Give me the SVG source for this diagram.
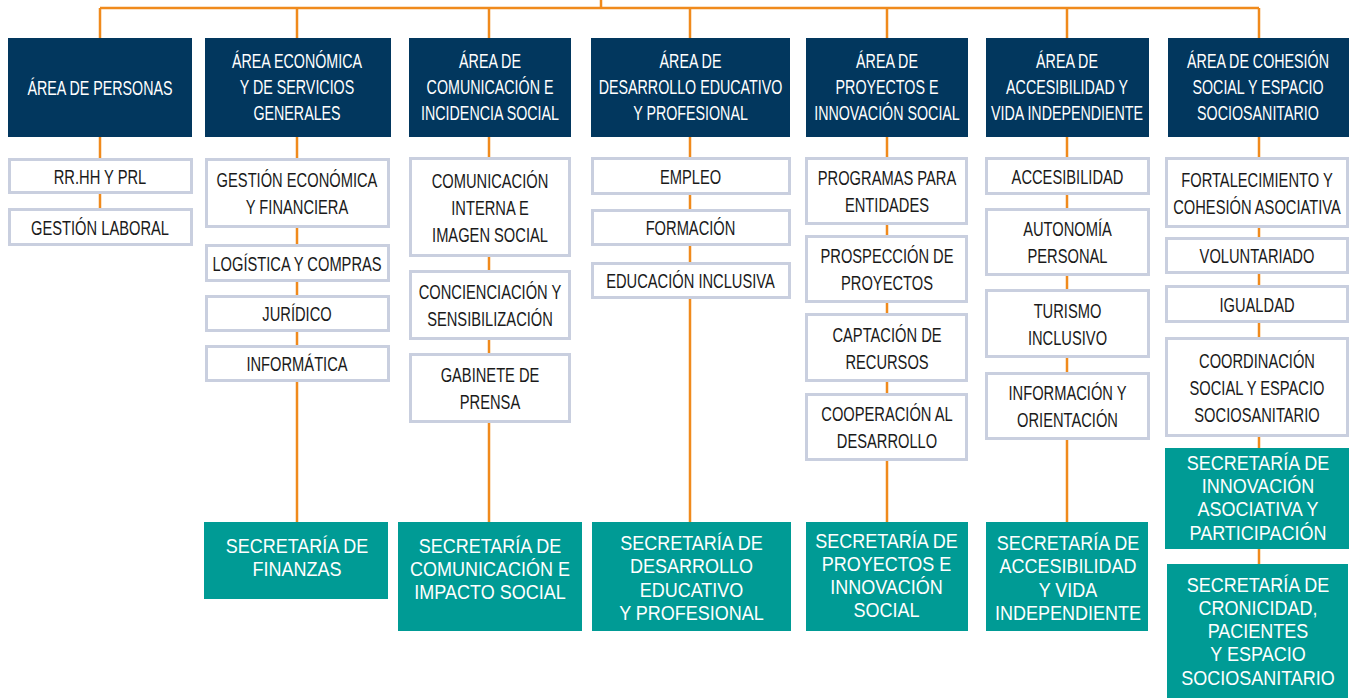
<svg xmlns="http://www.w3.org/2000/svg" width="1349" height="698" viewBox="0 0 1349 698">
<style>
.conn{stroke:#f08a1c;stroke-width:2.5;fill:none}
.hd{fill:#02375e}
.sb{fill:#fff;stroke:#c9cfdf;stroke-width:3}
.sc{fill:#009b95}
.th{font-family:"Liberation Sans",Arial,sans-serif;font-size:21px;fill:#fff;text-anchor:middle}
.ts{font-family:"Liberation Sans",Arial,sans-serif;font-size:21px;fill:#1a1a1a;text-anchor:middle}
.tc{font-family:"Liberation Sans",Arial,sans-serif;font-size:20px;fill:#fff;text-anchor:middle}
</style>
<rect width="1349" height="698" fill="#fff"/>
<g id="connectors">
<path class="conn" d="M601 0V8M100 8H1259M100 8V208M297 8V522M489 8V522M690 8V522M887 8V522M1067 8V522M1259 8V564"/>
</g>
<g id="col1">
<g id="h1"><rect class="hd" x="8" y="38" width="184" height="99"/><text class="th" transform="translate(100,94.5) scale(0.68,1)">ÁREA DE PERSONAS</text></g>
<g id="s1a"><rect class="sb" x="9.5" y="159.5" width="182" height="33"/><text class="ts" transform="translate(100,183.5) scale(0.7,1)">RR.HH Y PRL</text></g>
<g id="s1b"><rect class="sb" x="9.5" y="209.5" width="182" height="35"/><text class="ts" transform="translate(100,234.5) scale(0.7,1)">GESTIÓN LABORAL</text></g>
</g>
<g id="col2">
<g id="h2"><rect class="hd" x="205" y="38" width="186" height="99"/><text class="th" transform="translate(297,67.5) scale(0.68,1)">ÁREA ECONÓMICA</text><text class="th" transform="translate(297,93.5) scale(0.68,1)">Y DE SERVICIOS</text><text class="th" transform="translate(297,119.5) scale(0.68,1)">GENERALES</text></g>
<g id="s2a"><rect class="sb" x="206.5" y="159.5" width="182" height="67"/><text class="ts" transform="translate(297,187) scale(0.7,1)">GESTIÓN ECONÓMICA</text><text class="ts" transform="translate(297,214) scale(0.7,1)">Y FINANCIERA</text></g>
<g id="s2b"><rect class="sb" x="206.5" y="245.5" width="182" height="35"/><text class="ts" transform="translate(297,270.5) scale(0.7,1)">LOGÍSTICA Y COMPRAS</text></g>
<g id="s2c"><rect class="sb" x="206.5" y="296.5" width="182" height="34"/><text class="ts" transform="translate(297,321) scale(0.7,1)">JURÍDICO</text></g>
<g id="s2d"><rect class="sb" x="206.5" y="346.5" width="182" height="34"/><text class="ts" transform="translate(297,371) scale(0.7,1)">INFORMÁTICA</text></g>
<g id="c2"><rect class="sc" x="204" y="522" width="184" height="77"/><text class="tc" transform="translate(297,553) scale(0.9,1)">SECRETARÍA DE</text><text class="tc" transform="translate(297,576) scale(0.9,1)">FINANZAS</text></g>
</g>
<g id="col3">
<g id="h3"><rect class="hd" x="409" y="38" width="162" height="99"/><text class="th" transform="translate(490,67.5) scale(0.68,1)">ÁREA DE</text><text class="th" transform="translate(490,93.5) scale(0.68,1)">COMUNICACIÓN E</text><text class="th" transform="translate(490,119.5) scale(0.68,1)">INCIDENCIA SOCIAL</text></g>
<g id="s3a"><rect class="sb" x="410.5" y="158.5" width="159" height="97"/><text class="ts" transform="translate(490,187.5) scale(0.7,1)">COMUNICACIÓN</text><text class="ts" transform="translate(490,214.5) scale(0.7,1)">INTERNA E</text><text class="ts" transform="translate(490,241.5) scale(0.7,1)">IMAGEN SOCIAL</text></g>
<g id="s3b"><rect class="sb" x="410.5" y="271.5" width="159" height="67"/><text class="ts" transform="translate(490,298.5) scale(0.7,1)">CONCIENCIACIÓN Y</text><text class="ts" transform="translate(490,325.5) scale(0.7,1)">SENSIBILIZACIÓN</text></g>
<g id="s3c"><rect class="sb" x="410.5" y="354.5" width="159" height="67"/><text class="ts" transform="translate(490,381.5) scale(0.7,1)">GABINETE DE</text><text class="ts" transform="translate(490,408.5) scale(0.7,1)">PRENSA</text></g>
<g id="c3"><rect class="sc" x="398" y="522" width="184" height="109"/><text class="tc" transform="translate(490,553) scale(0.9,1)">SECRETARÍA DE</text><text class="tc" transform="translate(490,576) scale(0.9,1)">COMUNICACIÓN E</text><text class="tc" transform="translate(490,599) scale(0.9,1)">IMPACTO SOCIAL</text></g>
</g>
<g id="col4">
<g id="h4"><rect class="hd" x="591" y="38" width="199" height="99"/><text class="th" transform="translate(690.5,67.5) scale(0.68,1)">ÁREA DE</text><text class="th" transform="translate(690.5,93.5) scale(0.68,1)">DESARROLLO EDUCATIVO</text><text class="th" transform="translate(690.5,119.5) scale(0.68,1)">Y PROFESIONAL</text></g>
<g id="s4a"><rect class="sb" x="592.5" y="158.5" width="197" height="35"/><text class="ts" transform="translate(690.5,183.5) scale(0.7,1)">EMPLEO</text></g>
<g id="s4b"><rect class="sb" x="592.5" y="210.5" width="197" height="34"/><text class="ts" transform="translate(690.5,235) scale(0.7,1)">FORMACIÓN</text></g>
<g id="s4c"><rect class="sb" x="592.5" y="263.5" width="197" height="34"/><text class="ts" transform="translate(690.5,288) scale(0.7,1)">EDUCACIÓN INCLUSIVA</text></g>
<g id="c4"><rect class="sc" x="592" y="522" width="199" height="109"/><text class="tc" transform="translate(691.5,550) scale(0.9,1)">SECRETARÍA DE</text><text class="tc" transform="translate(691.5,573) scale(0.9,1)">DESARROLLO</text><text class="tc" transform="translate(691.5,597) scale(0.9,1)">EDUCATIVO</text><text class="tc" transform="translate(691.5,620) scale(0.9,1)">Y PROFESIONAL</text></g>
</g>
<g id="col5">
<g id="h5"><rect class="hd" x="806" y="38" width="162" height="99"/><text class="th" transform="translate(887,67.5) scale(0.68,1)">ÁREA DE</text><text class="th" transform="translate(887,93.5) scale(0.68,1)">PROYECTOS E</text><text class="th" transform="translate(887,119.5) scale(0.68,1)">INNOVACIÓN SOCIAL</text></g>
<g id="s5a"><rect class="sb" x="806.5" y="158.5" width="160" height="65"/><text class="ts" transform="translate(887,185) scale(0.7,1)">PROGRAMAS PARA</text><text class="ts" transform="translate(887,212) scale(0.7,1)">ENTIDADES</text></g>
<g id="s5b"><rect class="sb" x="806.5" y="236.5" width="160" height="65"/><text class="ts" transform="translate(887,263) scale(0.7,1)">PROSPECCIÓN DE</text><text class="ts" transform="translate(887,290) scale(0.7,1)">PROYECTOS</text></g>
<g id="s5c"><rect class="sb" x="806.5" y="314.5" width="160" height="66"/><text class="ts" transform="translate(887,341.5) scale(0.7,1)">CAPTACIÓN DE</text><text class="ts" transform="translate(887,368.5) scale(0.7,1)">RECURSOS</text></g>
<g id="s5d"><rect class="sb" x="806.5" y="394.5" width="160" height="65"/><text class="ts" transform="translate(887,421) scale(0.7,1)">COOPERACIÓN AL</text><text class="ts" transform="translate(887,448) scale(0.7,1)">DESARROLLO</text></g>
<g id="c5"><rect class="sc" x="806" y="522" width="162" height="109"/><text class="tc" transform="translate(886.5,548) scale(0.9,1)">SECRETARÍA DE</text><text class="tc" transform="translate(886.5,571) scale(0.9,1)">PROYECTOS E</text><text class="tc" transform="translate(886.5,594) scale(0.9,1)">INNOVACIÓN</text><text class="tc" transform="translate(886.5,617) scale(0.9,1)">SOCIAL</text></g>
</g>
<g id="col6">
<g id="h6"><rect class="hd" x="986" y="38" width="163" height="99"/><text class="th" transform="translate(1067,67.5) scale(0.68,1)">ÁREA DE</text><text class="th" transform="translate(1067,93.5) scale(0.68,1)">ACCESIBILIDAD Y</text><text class="th" transform="translate(1067,119.5) scale(0.68,1)">VIDA INDEPENDIENTE</text></g>
<g id="s6a"><rect class="sb" x="986.5" y="158.5" width="162" height="35"/><text class="ts" transform="translate(1067.5,183.5) scale(0.7,1)">ACCESIBILIDAD</text></g>
<g id="s6b"><rect class="sb" x="986.5" y="209.5" width="162" height="65"/><text class="ts" transform="translate(1067.5,236) scale(0.7,1)">AUTONOMÍA</text><text class="ts" transform="translate(1067.5,263) scale(0.7,1)">PERSONAL</text></g>
<g id="s6c"><rect class="sb" x="986.5" y="290.5" width="162" height="66"/><text class="ts" transform="translate(1067.5,317.5) scale(0.7,1)">TURISMO</text><text class="ts" transform="translate(1067.5,344.5) scale(0.7,1)">INCLUSIVO</text></g>
<g id="s6d"><rect class="sb" x="986.5" y="373.5" width="162" height="65"/><text class="ts" transform="translate(1067.5,400) scale(0.7,1)">INFORMACIÓN Y</text><text class="ts" transform="translate(1067.5,427) scale(0.7,1)">ORIENTACIÓN</text></g>
<g id="c6"><rect class="sc" x="986" y="522" width="162" height="109"/><text class="tc" transform="translate(1068,550) scale(0.9,1)">SECRETARÍA DE</text><text class="tc" transform="translate(1068,573) scale(0.9,1)">ACCESIBILIDAD</text><text class="tc" transform="translate(1068,597) scale(0.9,1)">Y VIDA</text><text class="tc" transform="translate(1068,620) scale(0.9,1)">INDEPENDIENTE</text></g>
</g>
<g id="col7">
<g id="h7"><rect class="hd" x="1168" y="38" width="181" height="99"/><text class="th" transform="translate(1258,67.5) scale(0.68,1)">ÁREA DE COHESIÓN</text><text class="th" transform="translate(1258,93.5) scale(0.68,1)">SOCIAL Y ESPACIO</text><text class="th" transform="translate(1258,119.5) scale(0.68,1)">SOCIOSANITARIO</text></g>
<g id="s7a"><rect class="sb" x="1166.5" y="158.5" width="181" height="68"/><text class="ts" transform="translate(1257,186.5) scale(0.7,1)">FORTALECIMIENTO Y</text><text class="ts" transform="translate(1257,213.5) scale(0.7,1)">COHESIÓN ASOCIATIVA</text></g>
<g id="s7b"><rect class="sb" x="1166.5" y="238.5" width="181" height="34"/><text class="ts" transform="translate(1257,263) scale(0.7,1)">VOLUNTARIADO</text></g>
<g id="s7c"><rect class="sb" x="1166.5" y="286.5" width="181" height="35"/><text class="ts" transform="translate(1257,311.5) scale(0.7,1)">IGUALDAD</text></g>
<g id="s7d"><rect class="sb" x="1166.5" y="338.5" width="181" height="97"/><text class="ts" transform="translate(1257,367.5) scale(0.7,1)">COORDINACIÓN</text><text class="ts" transform="translate(1257,394.5) scale(0.7,1)">SOCIAL Y ESPACIO</text><text class="ts" transform="translate(1257,421.5) scale(0.7,1)">SOCIOSANITARIO</text></g>
<g id="c7a"><rect class="sc" x="1165" y="448" width="184" height="101"/><text class="tc" transform="translate(1258,470) scale(0.9,1)">SECRETARÍA DE</text><text class="tc" transform="translate(1258,493) scale(0.9,1)">INNOVACIÓN</text><text class="tc" transform="translate(1258,516) scale(0.9,1)">ASOCIATIVA Y</text><text class="tc" transform="translate(1258,540) scale(0.9,1)">PARTICIPACIÓN</text></g>
<g id="c7b"><rect class="sc" x="1167" y="564" width="181" height="134"/><text class="tc" transform="translate(1258,592) scale(0.9,1)">SECRETARÍA DE</text><text class="tc" transform="translate(1258,615) scale(0.9,1)">CRONICIDAD,</text><text class="tc" transform="translate(1258,638) scale(0.9,1)">PACIENTES</text><text class="tc" transform="translate(1258,661) scale(0.9,1)">Y ESPACIO</text><text class="tc" transform="translate(1258,685) scale(0.9,1)">SOCIOSANITARIO</text></g>
</g>
</svg>
